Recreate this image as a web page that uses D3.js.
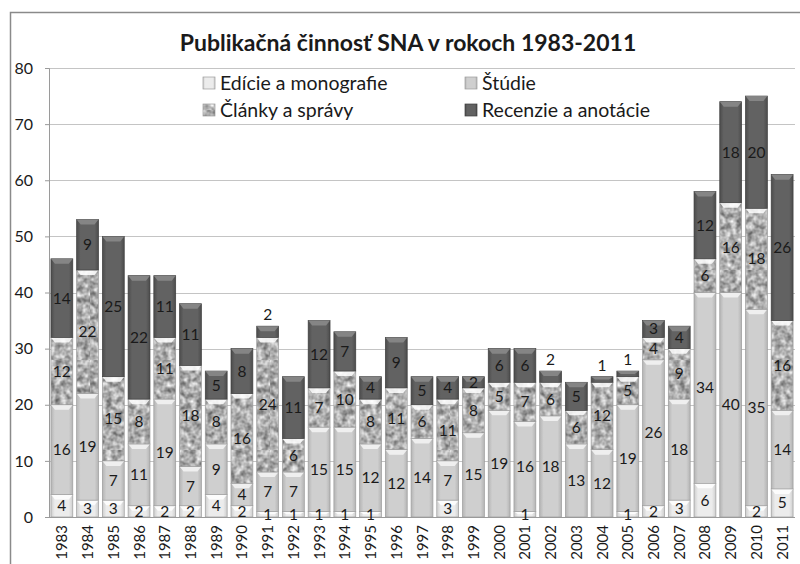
<!DOCTYPE html>
<html>
<head>
<meta charset="utf-8">
<script src="https://cdn.jsdelivr.net/npm/d3@7"></script>
<style>
  body { margin: 0; background: #fff; }
  text { font-family: Lato, "Open Sans", sans-serif; fill: #1a1a1a; }
</style>
</head>
<body>
<svg id="chart" width="800" height="564"></svg>
<script>
// data
years = ['1983','1984','1985','1986','1987','1988','1989','1990','1991','1992',
	'1993','1994','1995','1996','1997','1998','1999','2000','2001','2002',
	'2003','2004','2005','2006','2007','2008','2009','2010','2011'];
edicie   = [4,3,3,2,2,2,4,2,1,1,1,1,1,0,0,3,0,0,1,0,0,0,1,2,3,6,0,2,5];
studie   = [16,19,7,11,19,7,9,4,7,7,15,15,12,12,14,7,15,19,16,18,13,12,19,26,18,34,40,35,14];
clanky   = [12,22,15,8,11,18,8,16,24,6,7,10,8,11,6,11,8,5,7,6,6,12,5,4,9,6,16,18,16];
recenzie = [14,9,25,22,11,11,5,8,2,11,12,7,4,9,5,4,2,6,6,2,5,1,1,3,4,12,18,20,26];
seriesNames = ['Edície a monografie', 'Štúdie', 'Články a správy', 'Recenzie a anotácie'];
yTicks = [0,10,20,30,40,50,60,70,80];
// years whose top label sits above the bar
liftedTop = ['1991','2002','2004','2005'];

width = 800;
height = 564;
plotLeft = 49;
plotRight = 795;
plotTop = 68;
plotBottom = 517;

svg = d3.select('#chart');
defs = svg.append('defs');

function hGrad(id, edge, mid){
	let g = defs.append('linearGradient').attr('id', id)
		.attr('x1', '0').attr('x2', '1').attr('y1', '0').attr('y2', '0');
	[[0, edge], [0.18, mid], [0.82, mid], [1, edge]].forEach(s =>
		g.append('stop').attr('offset', s[0]).attr('stop-color', s[1]));
}
hGrad('g_edicie', '#cdcdcd', '#ececec');
hGrad('g_studie', '#b4b4b4', '#cfcfcf');
hGrad('g_recenzie', '#4c4c4c', '#626262');

// mottled texture for Články a správy
filt = defs.append('filter').attr('id', 'noise')
	.attr('x', 0).attr('y', 0).attr('width', 1).attr('height', 1)
	.attr('color-interpolation-filters', 'sRGB');
filt.append('feTurbulence').attr('type', 'fractalNoise')
	.attr('baseFrequency', 0.18).attr('numOctaves', 2).attr('seed', 4);
filt.append('feColorMatrix').attr('type', 'matrix')
	.attr('values', '0.8 0 0 0 0.28  0.8 0 0 0 0.28  0.8 0 0 0 0.28  0 0 0 0 1');
pat = defs.append('pattern').attr('id', 'p_clanky')
	.attr('patternUnits', 'userSpaceOnUse').attr('width', 90).attr('height', 90);
pat.append('rect').attr('width', 90).attr('height', 90).attr('fill', '#bbb');
pat.append('rect').attr('width', 90).attr('height', 90).attr('filter', 'url(#noise)');

fills = ['url(#g_edicie)', 'url(#g_studie)', 'url(#p_clanky)', 'url(#g_recenzie)'];
bevels = ['#ffffff', '#f4f4f4', '#ffffff', '#8e8e8e'];

x = d3.scaleBand().domain(years).range([plotLeft, plotRight])
	.paddingInner(0.15).paddingOuter(0.075);
y = d3.scaleLinear().domain([0, 80]).range([plotBottom, plotTop]);

// outer frame
svg.append('rect').attr('x', 10.5).attr('y', 12.5).attr('width', 800).attr('height', 600)
	.attr('fill', 'none').attr('stroke', '#8a8a8a').attr('stroke-width', 1.5);

// gridlines
svg.append('g').selectAll('line').data(yTicks.slice(1)).join('line')
	.attr('x1', plotLeft).attr('x2', plotRight)
	.attr('y1', d => Math.round(y(d)) + 0.5).attr('y2', d => Math.round(y(d)) + 0.5)
	.attr('stroke', '#c4c4c4').attr('stroke-width', 1.2);

// y axis
yAxis = svg.append('g').attr('transform', `translate(${plotLeft},0)`)
	.call(d3.axisLeft(y).tickValues(yTicks).tickSize(4).tickPadding(12));
yAxis.select('.domain').attr('stroke', '#9a9a9a');
yAxis.selectAll('.tick line').attr('stroke', '#9a9a9a');
yAxis.selectAll('text').style('font-size', '16px').attr('fill', '#1a1a1a');

// stacked bars
table = years.map((yr, i) => ({year: yr, e: edicie[i], s: studie[i], c: clanky[i], r: recenzie[i]}));
stack = d3.stack().keys(['e', 's', 'c', 'r'])(table);

bw = x.bandwidth();
stack.forEach((layer, k) => {
	let g = svg.append('g');
	let segs = g.selectAll('g').data(layer.filter(d => d[1] - d[0] > 0)).join('g');
	segs.append('rect')
		.attr('x', d => x(d.data.year))
		.attr('y', d => y(d[1]))
		.attr('width', bw)
		.attr('height', d => y(d[0]) - y(d[1]))
		.attr('fill', fills[k])
		.attr('stroke', k == 3 ? '#3e3e3e' : '#9c9c9c')
		.attr('stroke-width', 0.7);
	segs.append('polygon')
		.attr('points', d => {
			let x0 = x(d.data.year), x1 = x0 + bw, t = y(d[1]);
			let b = Math.min(5, (y(d[0]) - t) / 2);
			return `${x0},${t} ${x1},${t} ${x1 - 4},${t + b} ${x0 + 4},${t + b}`;
		})
		.attr('fill', bevels[k]).attr('opacity', k == 3 ? 0.8 : 0.85);
});

// x axis
svg.append('line').attr('x1', plotLeft).attr('x2', plotRight)
	.attr('y1', plotBottom + 0.5).attr('y2', plotBottom + 0.5)
	.attr('stroke', '#9a9a9a');
svg.append('g').selectAll('text').data(years).join('text')
	.attr('transform', d => `translate(${x(d) + bw / 2 + 5.5},${plotBottom + 8}) rotate(-90)`)
	.attr('text-anchor', 'end')
	.style('font-size', '15px')
	.text(d => d);

// data labels
stack.forEach((layer, k) => {
	svg.append('g').selectAll('text').data(layer.filter(d => d[1] - d[0] > 0)).join('text')
		.attr('x', d => x(d.data.year) + bw / 2)
		.attr('y', d => {
			if (k == 3 && liftedTop.includes(d.data.year)) return y(d[1]) - 6;
			return (y(d[0]) + y(d[1])) / 2 + 5.5;
		})
		.attr('text-anchor', 'middle')
		.style('font-size', '15.5px')
		.text(d => d[1] - d[0]);
});

// title
svg.append('text').attr('x', 408).attr('y', 51).attr('text-anchor', 'middle')
	.style('font-size', '23px').style('font-weight', 'bold')
	.text('Publikačná činnosť SNA v rokoch 1983-2011');

// legend
legendPos = [[203, 83], [465, 83], [203, 110], [465, 110]];
seriesNames.forEach((name, k) => {
	let lg = svg.append('g').attr('transform', `translate(${legendPos[k][0]},${legendPos[k][1]})`);
	lg.append('rect').attr('x', 0).attr('y', -6).attr('width', 12).attr('height', 12)
		.attr('fill', fills[k]).attr('stroke', k == 3 ? '#3e3e3e' : '#9c9c9c').attr('stroke-width', 0.7);
	lg.append('text').attr('x', 17).attr('y', 6.5).style('font-size', '19.5px').text(name);
});
</script>
</body>
</html>
